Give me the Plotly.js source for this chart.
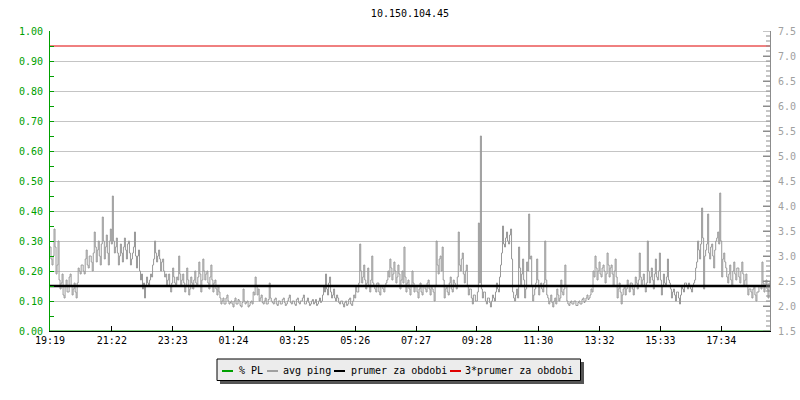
<!DOCTYPE html>
<html>
<head>
<meta charset="utf-8">
<script src="https://cdn.plot.ly/plotly-3.0.1.min.js"></script>
<style>
  html, body { margin: 0; padding: 0; background: #ffffff; }
  #chart { width: 800px; height: 400px; }
</style>
</head>
<body>
<div id="chart"></div>
<script>
// ---------------- data ----------------
const chartTitle = '10.150.104.45';
const timeTickLabels = ['19:19','21:22','23:23','01:24','03:25','05:26','07:27','09:28','11:30','13:32','15:33','17:34'];
const timeTickMinutes = [0, 123, 244, 365, 486, 607, 728, 849, 971, 1093, 1214, 1335];
const sampleStepMinutes = 2;
const periodEndMinutes = 1432;

// avg ping [ms], one sample every 2 minutes starting 19:19
const avgPing = [
  3.18,2.94,2.82,3.00,3.54,3.18,2.64,2.82,3.30,2.52,2.34,2.46,2.64,2.22,2.16,2.40,2.52,2.28,2.28,2.58,
  2.64,2.40,2.22,2.34,2.46,2.28,2.16,2.46,2.76,2.70,2.64,2.82,2.82,2.70,2.64,2.94,3.12,2.82,2.76,3.00,
  3.00,2.88,2.70,3.06,3.48,3.18,2.88,3.12,3.30,3.00,2.82,3.24,3.78,3.30,2.94,3.18,3.42,3.06,2.82,3.30,
  3.54,3.24,4.20,3.30,3.06,3.18,3.36,3.06,2.82,3.00,3.24,3.06,2.88,3.18,3.36,3.12,2.94,3.24,3.30,3.06,
  2.82,2.94,3.06,3.18,3.48,3.00,2.76,3.00,3.12,2.70,2.52,2.64,2.34,2.46,2.16,2.40,2.58,2.46,2.40,2.52,
  2.64,2.58,2.82,2.94,3.30,3.06,2.88,3.00,3.12,2.94,2.70,2.88,2.94,2.70,2.58,2.64,2.40,2.52,2.64,2.40,
  2.28,2.46,2.76,2.58,2.46,2.40,2.58,2.52,3.00,2.64,2.40,2.52,2.64,2.46,2.28,2.40,2.76,2.52,2.22,2.34,
  2.58,2.46,2.34,2.52,2.70,2.46,2.40,2.58,2.88,2.64,2.28,2.52,2.94,2.70,2.52,2.64,2.70,2.46,2.34,2.58,
  2.82,2.52,2.28,2.46,2.52,2.34,2.22,2.40,2.28,2.16,2.04,2.10,2.16,2.04,2.04,2.16,2.22,2.10,2.04,2.07,
  2.10,2.04,1.98,2.10,2.16,2.04,2.04,2.13,2.10,2.01,1.98,2.07,2.34,2.10,2.04,2.07,2.10,1.98,2.01,2.07,
  2.10,2.04,2.28,2.22,2.58,2.40,2.22,2.34,2.10,2.16,2.22,2.07,2.04,2.10,2.16,2.04,2.04,2.13,2.46,2.16,
  2.10,2.07,2.04,2.13,2.16,2.04,2.01,2.10,2.10,2.04,2.04,2.13,2.16,2.07,2.01,2.04,2.10,2.16,2.22,2.07,
  2.04,2.10,2.10,2.04,2.01,2.13,2.16,2.07,2.04,2.10,2.10,2.16,2.22,2.04,2.04,2.10,2.16,2.07,2.01,2.04,
  2.10,2.13,2.04,2.07,2.13,2.01,2.04,2.10,2.16,2.07,2.10,2.22,2.40,2.28,2.64,2.34,2.22,2.46,2.58,2.28,
  2.16,2.22,2.34,2.16,2.10,2.22,2.16,2.07,2.04,2.10,2.10,2.04,1.98,2.07,2.10,2.01,2.04,2.13,2.16,2.04,
  2.01,2.10,2.22,2.16,2.40,2.28,2.28,2.46,3.24,2.70,2.46,2.58,2.82,2.52,2.34,2.46,2.76,2.40,2.28,2.52,
  3.00,2.46,2.40,2.34,2.28,2.46,2.46,2.28,2.22,2.40,2.40,2.34,2.28,2.40,2.46,2.52,2.70,2.58,2.94,2.76,
  2.52,2.64,2.88,2.70,2.46,2.58,2.82,2.64,2.34,2.52,2.70,2.46,3.18,2.58,2.28,2.46,2.52,2.34,2.22,2.40,
  2.70,2.46,2.28,2.40,2.40,2.28,2.16,2.34,2.46,2.28,2.22,2.40,2.40,2.34,2.28,2.46,2.52,2.34,2.22,2.40,
  2.34,2.28,2.10,2.40,3.30,2.82,2.64,2.94,3.00,2.70,3.18,2.52,2.16,2.34,2.40,2.28,2.22,2.46,2.58,2.34,
  2.28,2.52,2.46,2.40,2.34,2.58,3.48,2.82,2.70,2.94,3.06,2.64,2.46,2.70,2.82,2.40,2.22,2.34,2.34,2.16,
  2.04,2.22,2.22,2.10,2.10,2.28,3.66,2.46,5.40,2.34,2.16,2.28,2.28,2.10,2.04,2.16,2.16,2.07,1.98,2.10,
  2.22,2.16,2.10,2.28,2.46,2.34,2.28,2.58,2.82,3.06,3.60,3.24,3.18,3.36,3.48,3.30,3.24,3.42,3.54,2.94,
  2.28,2.16,2.10,2.22,2.34,2.16,3.18,2.76,2.40,2.64,2.94,2.52,2.16,2.34,2.88,2.70,3.84,2.94,3.00,2.40,
  2.10,2.22,2.34,2.46,2.94,2.52,2.22,2.40,2.46,2.34,2.28,2.46,3.30,2.52,2.22,2.16,2.04,2.10,2.22,2.07,
  1.98,2.10,2.16,2.04,2.34,2.22,2.10,2.16,2.52,2.28,2.22,2.34,2.82,2.40,2.10,2.04,2.01,2.07,2.10,2.04,
  2.04,2.10,2.10,2.01,2.01,2.07,2.10,2.04,2.04,2.13,2.16,2.07,2.10,2.16,2.22,2.13,2.16,2.22,2.34,2.28,
  2.70,2.58,3.00,2.76,2.52,2.70,2.88,2.64,2.58,2.76,2.82,2.70,2.46,2.64,3.06,2.82,2.58,2.76,2.82,2.64,
  2.40,2.70,2.94,2.58,2.16,2.34,2.46,2.28,2.04,2.22,2.34,2.40,2.22,2.34,2.52,2.40,2.28,2.46,2.46,2.34,
  2.22,2.40,2.58,2.46,2.34,2.52,3.06,2.58,2.40,2.52,2.64,2.40,2.28,2.46,3.30,2.70,2.46,2.58,2.76,2.52,
  2.34,2.64,2.94,2.58,2.52,2.70,3.06,2.52,2.22,2.40,2.64,2.46,2.40,2.58,2.94,2.52,2.46,2.34,2.16,2.28,
  2.34,2.22,2.10,2.28,2.28,2.16,2.04,2.22,2.40,2.34,2.28,2.46,2.46,2.40,2.34,2.46,2.40,2.34,2.28,2.40,
  2.46,2.52,2.76,2.88,3.30,3.12,2.94,3.24,3.96,3.36,2.34,3.00,3.12,3.24,3.84,3.06,2.94,3.18,3.24,3.00,
  2.76,3.12,3.30,3.36,3.48,3.24,4.26,3.30,2.58,2.94,3.06,2.88,2.76,2.58,2.46,2.64,2.82,2.52,2.40,2.70,
  2.88,2.64,2.52,2.76,2.76,2.58,2.46,2.70,2.88,2.64,2.40,2.52,2.64,2.40,2.22,2.34,2.34,2.28,2.16,2.34,
  2.40,2.22,2.10,2.28,2.28,2.40,2.40,2.34,2.88,2.46,2.28,2.40,2.52,2.34,2.16,2.46,2.46,2.28,2.34,2.40
];
const packetLossTimes = [0, 1432];
const packetLossPct = [0, 0];
const periodAvgPing = 2.40;

const legendLabels = ['% PL', 'avg ping', 'prumer za obdobi', '3*prumer za obdobi'];

// ---------------- build ----------------
const pingTimes = avgPing.map((_, i) => i * sampleStepMinutes);
const GREEN = '#00a000', GREY = '#a0a0a0', RED = '#e00000';
const TICKGREY = '#8c8c8c';
const MONO = 'DejaVu Sans Mono, monospace';

// right-axis tick marks: small every 0.1 ms, labelled every 0.5 ms
const pingTickVals = [], pingMajorVals = [];
for (let k = 15; k <= 75; k++) {
  pingTickVals.push(k / 10);
  if (k % 5 === 0) pingMajorVals.push(k / 10);
}

const traces = [
  { x: packetLossTimes, y: packetLossPct, yaxis: 'y', type: 'scatter', mode: 'lines',
    line: { color: GREEN, width: 1 }, name: legendLabels[0], hoverinfo: 'skip' },
  { x: pingTimes, y: avgPing, yaxis: 'y2', type: 'scatter', mode: 'lines',
    line: { color: '#999999', width: 1, shape: 'hv' }, name: legendLabels[1] },
  { x: [0, periodEndMinutes], y: [periodAvgPing, periodAvgPing], yaxis: 'y2', type: 'scatter', mode: 'lines',
    line: { color: '#000000', width: 2.5 }, name: legendLabels[2] },
  { x: [0, periodEndMinutes], y: [3 * periodAvgPing, 3 * periodAvgPing], yaxis: 'y2', type: 'scatter', mode: 'lines',
    line: { color: RED, width: 1 }, name: legendLabels[3] }
];

// helpers converting page pixels to paper coordinates (plot area 50..770 x 31..331)
const PL = 50, PR = 770, PT = 31, PB = 331;
const px = v => (v - PL) / (PR - PL);
const py = v => (PB - v) / (PB - PT);

const legendColors = [GREEN, '#a0a0a0', '#000000', RED];
const legendLineX = [[222, 233], [267, 278], [334, 345], [450, 461]];
const legendTextX = [237, 281, 349, 463];
const legY = 370.5;

const shapes = [];
// right-axis tick marks drawn on the ping scale
pingTickVals.forEach(v => {
  const isMajor = pingMajorVals.indexOf(v) >= 0;
  shapes.push({ type: 'line', xref: 'paper', yref: 'y2',
    x0: px(PR - (isMajor ? 7 : 4)), x1: px(PR), y0: v, y1: v,
    line: { color: TICKGREY, width: 1 }, layer: 'above' });
});
shapes.push(
  { type: 'rect', xref: 'paper', yref: 'paper', x0: px(220), x1: px(584), y0: py(362), y1: py(384),
    fillcolor: '#555555', line: { width: 0 }, layer: 'above' },
  { type: 'rect', xref: 'paper', yref: 'paper', x0: px(217), x1: px(580.5), y0: py(359), y1: py(380.5),
    fillcolor: '#ececec', line: { color: '#000000', width: 1 }, layer: 'above' }
);
const annotations = [];
legendLabels.forEach((lab, k) => {
  shapes.push({ type: 'line', xref: 'paper', yref: 'paper',
    x0: px(legendLineX[k][0]), x1: px(legendLineX[k][1]), y0: py(legY + 0.5), y1: py(legY + 0.5),
    line: { color: legendColors[k], width: 2 }, layer: 'above' });
  annotations.push({ xref: 'paper', yref: 'paper', x: px(legendTextX[k]), y: py(legY),
    xanchor: 'left', yanchor: 'middle', showarrow: false, text: lab,
    font: { family: MONO, size: 10, color: '#000000' } });
});

const layout = {
  width: 800, height: 400,
  margin: { l: PL, r: 800 - PR, t: PT, b: 400 - PB, pad: 0 },
  paper_bgcolor: '#ffffff', plot_bgcolor: '#ffffff',
  showlegend: false,
  title: { text: chartTitle, x: 0.5, xref: 'paper', y: 1 - 13 / 400, yanchor: 'middle',
           font: { family: MONO, size: 10, color: '#000000' } },
  xaxis: {
    range: [0, periodEndMinutes], tickmode: 'array', tickvals: timeTickMinutes, ticktext: timeTickLabels,
    ticks: 'inside', ticklen: 5, tickcolor: '#000000', tickwidth: 1,
    showline: true, linecolor: '#000000', linewidth: 1, showgrid: false, zeroline: false,
    tickfont: { family: MONO, size: 10, color: '#000000' }, fixedrange: true
  },
  yaxis: {
    range: [0, 1], tickmode: 'linear', tick0: 0, dtick: 0.1, tickformat: '.2f',
    ticks: 'inside', ticklen: 4, tickcolor: GREEN, tickwidth: 1,
    showline: true, linecolor: GREEN, linewidth: 1,
    showgrid: true, gridcolor: '#c4c4c4', gridwidth: 1, zeroline: false,
    minor: { dtick: 0.05, ticks: 'inside', ticklen: 4, tickcolor: GREEN, showgrid: false },
    tickfont: { family: MONO, size: 10, color: GREEN }, ticklabelstandoff: 4, fixedrange: true
  },
  yaxis2: {
    overlaying: 'y', side: 'right', anchor: 'x',
    range: [1.5, 7.5], tickmode: 'array', tickvals: pingMajorVals,
    ticktext: pingMajorVals.map(v => v.toFixed(1)),
    ticks: 'inside', ticklen: 7, tickcolor: TICKGREY, tickwidth: 1,
    showline: true, linecolor: TICKGREY, linewidth: 1, showgrid: false, zeroline: false,
    tickfont: { family: MONO, size: 10, color: GREY }, ticklabelstandoff: 5, fixedrange: true
  },
  shapes: shapes,
  annotations: annotations
};

Plotly.newPlot('chart', traces, layout, { staticPlot: true, displayModeBar: false });
</script>
</body>
</html>
